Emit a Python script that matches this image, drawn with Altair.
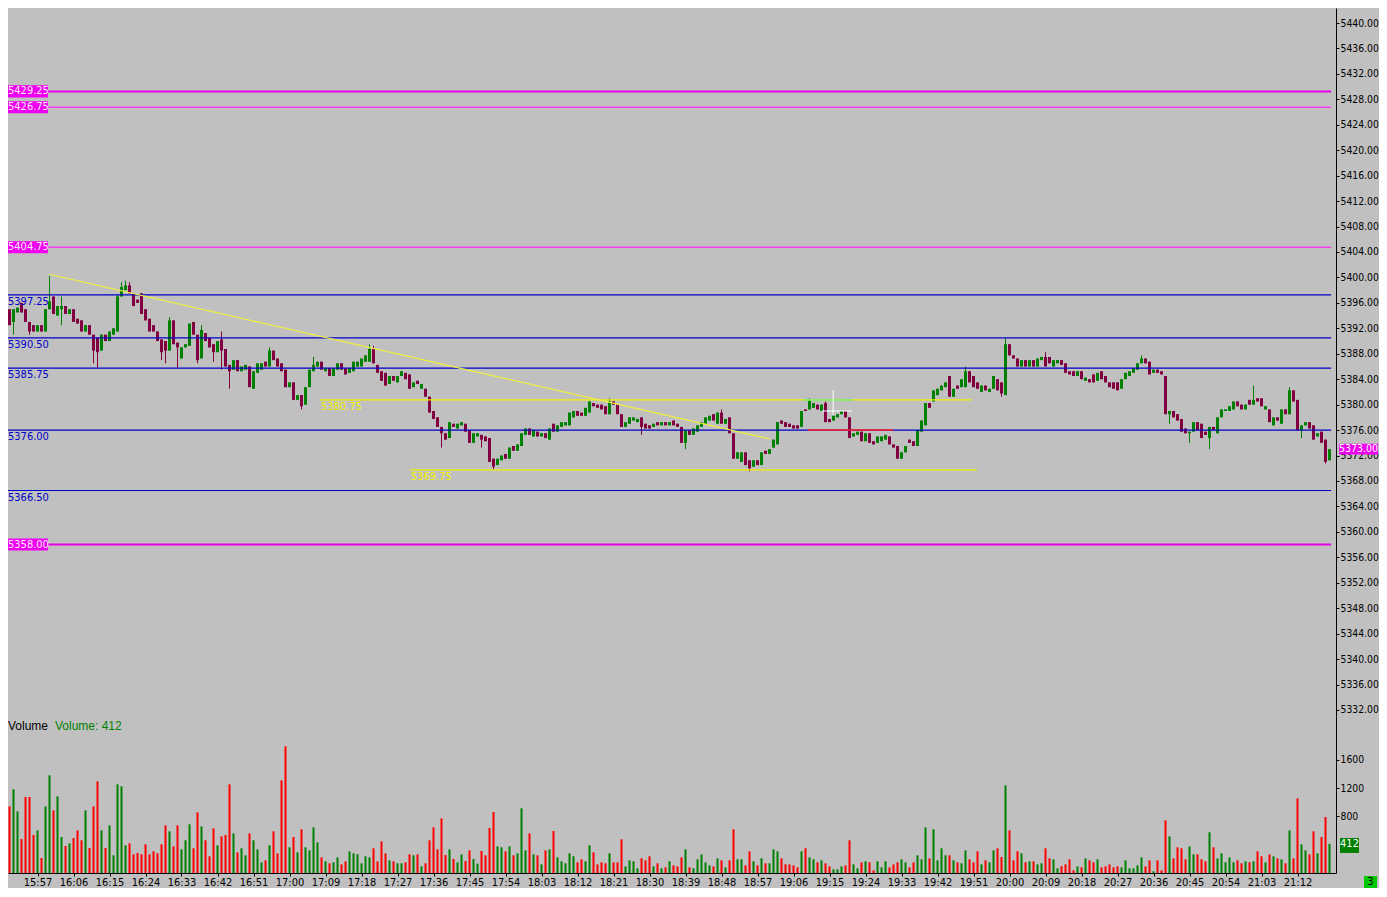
import altair as alt
import pandas as pd

FONT = "DejaVu Sans Condensed, Liberation Sans Narrow, sans-serif"
BG = "#c0c0c0"
GREEN = "#008000"
MAROON = "#800040"
VOL_RED = "#ff0000"

START = 15 * 60 + 48  # 15:48, one bar per minute

opens = [
    5397.25, 5398.5, 5395, 5393, 5394.5, 5396, 5395, 5393, 5392.5,
    5391.5, 5392.5, 5391.5, 5395, 5397, 5394, 5395, 5395.5, 5394.25,
    5395, 5393.5, 5393.25, 5391.5, 5392.5, 5391, 5390.5, 5388.5, 5391,
    5390, 5391, 5391.5, 5397, 5398, 5398.75, 5397.5, 5396.5, 5397.5,
    5395, 5393.5, 5392.5, 5391.5, 5390.25, 5390, 5388.5, 5393.25, 5389.75,
    5387.25, 5389, 5389.25, 5393, 5391, 5387.25, 5391.25, 5390.5, 5389.5,
    5388.25, 5390.25, 5388.75, 5386.25, 5385.5, 5387, 5385.25, 5385.5, 5386,
    5382.5, 5385, 5385.5, 5386.75, 5386, 5388.5, 5387.25, 5386.5, 5385.5,
    5382.75, 5383.5, 5380.75, 5381.5, 5380, 5382.75, 5385.25, 5386, 5386.75,
    5385.25, 5385.75, 5384.5, 5385.5, 5386.5, 5385.75, 5385, 5385.25, 5386,
    5386, 5386.75, 5386.75, 5388.75, 5386.25, 5385.25, 5385, 5383.25, 5384.5,
    5383.5, 5384.5, 5385, 5384.75, 5382.75, 5383.75, 5382.5, 5382.5, 5381.25,
    5379, 5378, 5376.5, 5375.5, 5374.75, 5377, 5376.25, 5376.75, 5377,
    5376, 5374, 5375, 5375.25, 5375, 5374.75, 5371.5, 5370.5, 5371.25,
    5372.25, 5371.5, 5373.5, 5372.75, 5373.5, 5375.25, 5376.25, 5375, 5375.75,
    5375, 5375.5, 5374.5, 5377, 5375.75, 5376.5, 5376.75, 5376.75, 5378,
    5379, 5378.75, 5378.25, 5378.75, 5380.25, 5380, 5380, 5379.75, 5378.5,
    5380.5, 5380, 5378.5, 5376.5, 5377, 5377.5, 5377.25, 5378, 5377,
    5376.75, 5376.5, 5377.25, 5376.75, 5377.25, 5376.75, 5377.5, 5377, 5376.5,
    5374, 5376, 5375.25, 5375.75, 5376.5, 5377, 5377.5, 5378.5, 5377,
    5378.75, 5377, 5378, 5375.5, 5371.5, 5371, 5372.5, 5371.25, 5370.25,
    5371.25, 5370.5, 5372.75, 5372.25, 5373.25, 5373.75, 5377.5, 5377.25, 5377,
    5376.75, 5376.75, 5376.5, 5379.25, 5379.25, 5379.5, 5380, 5379, 5380.25,
    5377.75, 5377.5, 5378, 5378.5, 5379, 5378, 5375, 5375.25, 5375.75,
    5374.25, 5375.5, 5374.25, 5374, 5374.25, 5374.5, 5375, 5373.75, 5373.5,
    5371.5, 5372.5, 5374.5, 5374.25, 5373.5, 5375.75, 5376.75, 5380.25, 5380.5,
    5381.5, 5382.25, 5382.75, 5384.5, 5381.25, 5383, 5382.75, 5382.75, 5385.25,
    5384.5, 5383.5, 5382, 5383, 5382, 5382.5, 5384, 5383.5, 5381.5,
    5389.5, 5387.75, 5387.25, 5386, 5387, 5386, 5387, 5386, 5387,
    5387.5, 5387.5, 5386, 5386.5, 5387, 5386.5, 5385.25, 5385.25, 5384.5,
    5385.25, 5383.75, 5384, 5384.75, 5383.75, 5385.25, 5384.5, 5383.5, 5383.5,
    5383.5, 5382.5, 5384, 5384.5, 5385, 5385.5, 5386.5, 5387.25, 5386.75,
    5385, 5385.5, 5385.25, 5384.5, 5378.5, 5379, 5378.5, 5377.75, 5376.25,
    5375.5, 5375.75, 5377.25, 5377, 5375.75, 5374.75, 5376.5, 5375.5, 5378,
    5379, 5379, 5379.25, 5380.5, 5380, 5379.25, 5380.75, 5380, 5381,
    5381, 5379.25, 5379.25, 5376.75, 5378, 5377, 5379.25, 5378.5, 5382.25,
    5380.75, 5376, 5376.75, 5377.25, 5376.75, 5375, 5375.75, 5374.5, 5371.25,
]

closes = [
    5399, 5395, 5392.5, 5395, 5395.25, 5394.5, 5393, 5391.5, 5391.5,
    5392.5, 5391.5, 5395, 5396.25, 5394.25, 5395.5, 5395.5, 5394.25, 5395,
    5393, 5392.75, 5391.5, 5392.5, 5391, 5388.5, 5388.25, 5391, 5390,
    5391.5, 5392, 5397, 5398.5, 5398.75, 5397.5, 5395.5, 5396, 5394.25,
    5393.25, 5391.5, 5391.5, 5390, 5388.25, 5388.5, 5393.25, 5389.5, 5389,
    5389, 5389.5, 5392.75, 5391, 5387, 5391.75, 5390, 5389, 5388.25,
    5390, 5388.5, 5386, 5385.25, 5387, 5385.25, 5386, 5386.25, 5382.75,
    5385.25, 5386.5, 5386.5, 5386, 5388.5, 5387, 5386, 5385.25, 5382.75,
    5383.5, 5380.75, 5381.5, 5379.75, 5382.75, 5385.5, 5386.25, 5386.75, 5385.5,
    5385.75, 5384.5, 5385.75, 5386.5, 5385.5, 5384.75, 5385.75, 5386.75, 5386.75,
    5387.25, 5387.75, 5388.75, 5386.5, 5385, 5383.75, 5383, 5384.5, 5383.75,
    5384.5, 5385.25, 5384, 5382.5, 5383.5, 5383.25, 5383.25, 5381.25, 5378.75,
    5377.75, 5376.5, 5375.5, 5374.5, 5377.25, 5376.5, 5377, 5377.25, 5375.75,
    5374, 5375.5, 5375.5, 5374.5, 5374.25, 5371, 5370.25, 5371.5, 5372,
    5371.5, 5373.25, 5372.75, 5373.75, 5375.5, 5376.25, 5375.25, 5376, 5375,
    5375.5, 5374.75, 5376.25, 5375.75, 5376.75, 5377.25, 5377.25, 5378.75, 5379,
    5378.25, 5378.25, 5379.5, 5380.5, 5379.75, 5379.5, 5379.25, 5378.5, 5380.5,
    5380, 5378.5, 5376.5, 5377.25, 5378, 5378, 5377.75, 5376.5, 5376.25,
    5376.25, 5377, 5376.75, 5377.25, 5376.75, 5377.25, 5376.75, 5376.5, 5374,
    5376, 5375.25, 5376.25, 5376.75, 5377.25, 5378, 5378.25, 5377.5, 5378.75,
    5377, 5377.75, 5375.5, 5371.5, 5372.5, 5372.5, 5370.5, 5370, 5371.25,
    5370.5, 5372.5, 5372.25, 5373, 5374.5, 5377.25, 5377, 5376.5, 5376.5,
    5376.25, 5376.25, 5379, 5379, 5380.75, 5380.25, 5379.25, 5380, 5377.25,
    5377.25, 5378.25, 5378.5, 5379, 5378, 5374.75, 5375.5, 5375.75, 5374.25,
    5375.5, 5374, 5373.75, 5375, 5375, 5375.25, 5373.75, 5373.25, 5371.5,
    5372.5, 5373.5, 5374, 5373.5, 5376, 5377.5, 5380.25, 5379.5, 5382.25,
    5382.5, 5383, 5383.5, 5381.25, 5382.5, 5382.5, 5384, 5385.25, 5383.5,
    5382.75, 5382.5, 5383, 5382.25, 5382.5, 5384.5, 5382.25, 5381.75, 5389.5,
    5387.75, 5387.25, 5386, 5387, 5386, 5387, 5386, 5387.25, 5387.5,
    5386, 5386.5, 5387, 5387, 5386.25, 5385, 5384.75, 5384.5, 5385.25,
    5384, 5384.25, 5383.5, 5383.5, 5385, 5384, 5383.5, 5382.75, 5382.5,
    5382.25, 5384, 5385, 5385.25, 5385.75, 5386.5, 5387.25, 5386.5, 5384.75,
    5385.5, 5385, 5384.75, 5378.5, 5379, 5378, 5377.5, 5375.75, 5375.5,
    5375.75, 5377.25, 5376, 5374.75, 5375.25, 5376.5, 5376, 5378, 5379.25,
    5379.25, 5379.75, 5380.5, 5379.75, 5379.25, 5380, 5380, 5380.75, 5380.5,
    5379.75, 5379.75, 5377.25, 5378, 5377.5, 5379.25, 5378.5, 5382.25, 5380.5,
    5376, 5376.75, 5377.25, 5376.25, 5374.5, 5375.5, 5374, 5371, 5373,
]

volumes = [
    918, 622, 942, 1182, 871, 480, 1074, 1074, 537,
    603, 212, 942, 1380, 885, 1083, 509, 381, 419,
    494, 603, 462, 885, 353, 942, 1295, 603, 353,
    673, 250, 1253, 1225, 391, 419, 264, 283, 264,
    405, 264, 306, 278, 405, 673, 589, 377, 673,
    334, 462, 688, 349, 857, 659, 462, 236, 631,
    391, 518, 537, 1253, 560, 292, 349, 250, 560,
    462, 334, 151, 179, 391, 589, 278, 1309, 1790,
    363, 509, 292, 617, 363, 320, 645, 433, 221,
    165, 137, 151, 221, 122, 165, 306, 278, 264,
    137, 236, 221, 349, 165, 447, 278, 179, 165,
    137, 137, 151, 264, 250, 264, 94, 137, 462,
    645, 334, 772, 254, 334, 198, 151, 264, 170,
    320, 198, 132, 311, 250, 636, 862, 377, 363,
    306, 377, 250, 278, 914, 320, 560, 264, 250,
    122, 320, 334, 593, 221, 165, 137, 278, 236,
    151, 193, 165, 391, 292, 122, 151, 137, 278,
    151, 151, 476, 94, 179, 165, 66, 207, 179,
    236, 94, 137, 66, 80, 165, 108, 94, 221,
    334, 80, 66, 193, 264, 151, 108, 94, 207,
    179, 80, 179, 617, 193, 193, 108, 306, 165,
    108, 207, 137, 137, 334, 306, 207, 122, 122,
    108, 80, 306, 349, 221, 193, 151, 179, 137,
    94, 52, 52, 94, 108, 462, 122, 66, 151,
    165, 151, 38, 165, 80, 165, 80, 122, 151,
    193, 151, 80, 151, 250, 193, 645, 207, 617,
    179, 349, 250, 250, 179, 151, 137, 320, 193,
    151, 306, 122, 179, 151, 320, 349, 226, 1239,
    603, 179, 306, 278, 151, 165, 165, 122, 137,
    349, 207, 193, 66, 94, 122, 193, 38, 94,
    80, 207, 179, 151, 193, 80, 94, 122, 80,
    94, 80, 179, 66, 66, 108, 221, 94, 179,
    24, 179, 38, 744, 518, 207, 363, 349, 193,
    377, 264, 264, 193, 165, 575, 363, 207, 278,
    151, 221, 151, 179, 137, 165, 151, 165, 306,
    236, 151, 264, 236, 207, 193, 137, 603, 207,
    1055, 405, 320, 264, 589, 278, 509, 791, 412,
]

# wick extremes that reach beyond the candle body (bar index -> price)
wick_high = {0: 5399.5, 12: 5400.25, 15: 5397, 29: 5397.25, 30: 5399.25, 31: 5399.5,
             32: 5399.25, 42: 5393.75, 50: 5392.5, 55: 5391.5, 67: 5389, 78: 5387.5,
             92: 5389.5, 93: 5389.25, 152: 5381, 180: 5379.25, 202: 5381, 206: 5380.5,
             241: 5386, 251: 5390.5, 261: 5388.25, 285: 5387.75, 313: 5383, 322: 5382.75}
wick_low = {3: 5391, 7: 5391, 15: 5392.5, 23: 5386.5, 24: 5385.75, 40: 5387, 41: 5386.5,
            44: 5385.75, 49: 5386.5, 53: 5386.75, 55: 5385.5, 57: 5382.5, 75: 5379.25,
            110: 5373.25, 120: 5373.25, 123: 5369.75, 160: 5375.25, 171: 5373,
            187: 5369.5, 250: 5381.25, 292: 5377, 297: 5374, 302: 5373, 325: 5374.75,
            331: 5370.75}

magenta_levels = [5429.25, 5426.75, 5404.75, 5358.00]
magenta_widths = [2.0, 1.5, 1.5, 2.0]
blue_levels = [5397.25, 5390.50, 5385.75, 5376.00, 5366.50]

yellow_levels = [5380.75, 5369.75]
yellow_from = [1027.6, 1050.1]
yellow_to = [1190.6, 1191.9]

trend_t = [959.9, 1140.1]
trend_p = [5400.5, 5374.6]

order_lines_p = [5380.75, 5376.00]
order_lines_from = [1148.6, 1149.6]
order_lines_to = [1160.75, 1170.9]
order_lines_col = ["#70f070", "#ff2020"]

last_price = 5373.00
last_volume = 412

price_ticks = [5332, 5336, 5340, 5344, 5348, 5352, 5356, 5360, 5364, 5368, 5372,
               5376, 5380, 5384, 5388, 5392, 5396, 5400, 5404, 5408, 5412, 5416,
               5420, 5424, 5428, 5432, 5436, 5440]
volume_ticks = [800, 1200, 1600]
time_ticks = list(range(957, 1273, 9))

W = 1328
H_PRICE = 708
H_VOL = 157
X_DOMAIN = [949.625, 1281.625]
P_DOMAIN = [5331.05, 5442.36]
V_DOMAIN = [0, 2218]
LINE_END = 1280.4

xs = alt.Scale(domain=X_DOMAIN, nice=False, zero=False, padding=0)
ys = alt.Scale(domain=P_DOMAIN, nice=False, zero=False, padding=0)
vs = alt.Scale(domain=V_DOMAIN, nice=False, zero=False, padding=0)

price_axis = alt.Axis(orient="right", values=price_ticks, format=".2f", labelFont=FONT,
                      labelFontSize=10.3, labelColor="black", tickColor="black", tickSize=3,
                      domainColor="black", domainWidth=1, grid=False, title=None,
                      labelPadding=1, labelFlush=False, labelOverlap=False)
vol_axis = alt.Axis(orient="right", values=volume_ticks, format="d", labelFont=FONT,
                    labelFontSize=10.3, labelColor="black", tickColor="black", tickSize=3,
                    domainColor="black", domainWidth=1, grid=False, title=None,
                    labelPadding=1, labelFlush=False, labelOverlap=False)
time_axis = alt.Axis(orient="bottom", values=time_ticks,
                     labelExpr="floor(datum.value / 60) + ':' + (datum.value % 60 < 10 ? '0' : '') + (datum.value % 60)",
                     labelFont=FONT, labelFontSize=11, labelColor="black", tickColor="black",
                     tickSize=3, domainColor="black", domainWidth=1, grid=False, title=None,
                     labelPadding=0, labelFlush=False, labelOverlap=False)


def XP(f):
    return alt.X(f, type="quantitative", scale=xs, axis=None)


def YP(f):
    return alt.Y(f, type="quantitative", scale=ys, axis=price_axis)


n = len(closes)
rows = []
for i in range(n):
    o, c = opens[i], closes[i]
    top, bot = max(o, c), min(o, c)
    rows.append({
        "t": START + i, "o": o, "c": c, "top": top, "bot": bot,
        "h": max(top, wick_high.get(i, top)), "l": min(bot, wick_low.get(i, bot)),
        "v": volumes[i],
        "col": GREEN if c >= o else MAROON,
        "vcol": GREEN if c >= o else VOL_RED,
    })
bars = pd.DataFrame(rows)

levels = pd.DataFrame(
    [{"p": p, "t0": X_DOMAIN[0], "t1": LINE_END, "col": "#e800e8" if w > 1.8 else "#f040f0", "w": w}
     for p, w in zip(magenta_levels, magenta_widths)]
    + [{"p": p, "t0": X_DOMAIN[0], "t1": LINE_END, "col": "#0000c8", "w": 1.2} for p in blue_levels]
    + [{"p": p, "t0": a, "t1": b, "col": "#f0f000", "w": 1.4}
       for p, a, b in zip(yellow_levels, yellow_from, yellow_to)]
    + [{"p": p, "t0": a, "t1": b, "col": col, "w": 1.5}
       for p, a, b, col in zip(order_lines_p, order_lines_from, order_lines_to, order_lines_col)]
)

wicks = alt.Chart(bars).mark_rule(strokeWidth=1, clip=True).encode(
    x=XP("t"), y=YP("l"), y2="h:Q", color=alt.Color("col:N", scale=None))
bodies = alt.Chart(bars).mark_bar(size=3, clip=True).encode(
    x=XP("t"), y=YP("bot"), y2="top:Q", color=alt.Color("col:N", scale=None))

level_rules = alt.Chart(levels).mark_rule(clip=True).encode(
    x=XP("t0"), x2="t1:Q", y=YP("p"),
    color=alt.Color("col:N", scale=None), strokeWidth=alt.StrokeWidth("w:Q", scale=None))

trend = alt.Chart(pd.DataFrame({"t": trend_t, "p": trend_p})).mark_line(
    color="#f0f040", strokeWidth=1.2, clip=True).encode(x=XP("t"), y=YP("p"))

cross_v = alt.Chart(pd.DataFrame({"t": [1155.9], "p1": [5382.3], "p2": [5378.4]})).mark_rule(
    color="white", strokeWidth=1).encode(x=XP("t"), y=YP("p1"), y2="p2:Q")
cross_h = alt.Chart(pd.DataFrame({"t1": [1153.1], "t2": [1160.6], "p": [5379.0]})).mark_rule(
    color="white", strokeWidth=1).encode(x=XP("t1"), x2="t2:Q", y=YP("p"))

mag_df = pd.DataFrame({"p": magenta_levels, "lo": [p - 0.95 for p in magenta_levels],
                       "hi": [p + 0.95 for p in magenta_levels],
                       "s": [f"{p:.2f}" for p in magenta_levels]})
mag_box = alt.Chart(mag_df).mark_rect(color="#f000f0").encode(
    x=alt.value(0), x2=alt.value(40), y=YP("lo"), y2="hi:Q")
mag_txt = alt.Chart(mag_df).mark_text(align="left", baseline="middle", font=FONT,
                                      fontSize=11, color="#ffe8ff").encode(
    x=alt.value(0), y=YP("p"), text="s:N")

blue_df = pd.DataFrame({"p": blue_levels, "s": [f"{p:.2f}" for p in blue_levels]})
blue_txt = alt.Chart(blue_df).mark_text(align="left", baseline="middle", font=FONT,
                                        fontSize=11, color="#0000c8", dy=7).encode(
    x=alt.value(0), y=YP("p"), text="s:N")

yel_df = pd.DataFrame({"p": yellow_levels, "t": yellow_from,
                       "s": [f"{p:.2f}" for p in yellow_levels]})
yel_txt = alt.Chart(yel_df).mark_text(align="left", baseline="middle", font=FONT,
                                      fontSize=11, color="#f0f000", dy=7, dx=1).encode(
    x=XP("t"), y=YP("p"), text="s:N")

last_df = pd.DataFrame({"p": [last_price], "lo": [last_price - 0.85], "hi": [last_price + 0.85],
                        "s": [f"{last_price:.2f}"]})
last_box = alt.Chart(last_df).mark_rect(color="#f000f0").encode(
    x=alt.value(W + 3), x2=alt.value(W + 42), y=YP("lo"), y2="hi:Q")
last_txt = alt.Chart(last_df).mark_text(align="center", baseline="middle", font=FONT,
                                        fontSize=10.5, color="white").encode(
    x=alt.value(W + 22.5), y=YP("p"), text="s:N")

price = alt.layer(wicks, bodies, level_rules, trend, cross_v, cross_h,
                  mag_box, mag_txt, blue_txt, yel_txt, last_box, last_txt).properties(
    width=W, height=H_PRICE)

# volume panel
vol_bars = alt.Chart(bars).mark_bar(size=2, clip=True).encode(
    x=alt.X("t:Q", scale=xs, axis=time_axis),
    y=alt.Y("v:Q", scale=vs, axis=vol_axis),
    color=alt.Color("vcol:N", scale=None))

lv_df = pd.DataFrame({"v": [last_volume], "lo": [283], "hi": [494], "s": [str(last_volume)]})
lv_box = alt.Chart(lv_df).mark_rect(color="#008000").encode(
    x=alt.value(W + 4), x2=alt.value(W + 23),
    y=alt.Y("lo:Q", scale=vs, axis=vol_axis), y2="hi:Q")
lv_txt = alt.Chart(lv_df).mark_text(align="center", baseline="middle", font=FONT,
                                    fontSize=11, color="white").encode(
    x=alt.value(W + 13.5), y=alt.Y("v:Q", scale=vs, axis=vol_axis), text="s:N")

vol_title = alt.Chart(pd.DataFrame({"s": ["Volume"]})).mark_text(
    align="left", baseline="middle", font="Liberation Sans, sans-serif", fontSize=12,
    color="black").encode(x=alt.value(0), y=alt.value(10), text="s:N")
vol_title2 = alt.Chart(pd.DataFrame({"s": [f"Volume: {last_volume}"]})).mark_text(
    align="left", baseline="middle", font="Liberation Sans, sans-serif", fontSize=12,
    color="#008000").encode(x=alt.value(47), y=alt.value(10), text="s:N")

corner_box = alt.Chart(pd.DataFrame({"s": ["3"]})).mark_rect(color="#00c800").encode(
    x=alt.value(W + 28), x2=alt.value(W + 41), y=alt.value(H_VOL + 3), y2=alt.value(H_VOL + 15))
corner_txt = alt.Chart(pd.DataFrame({"s": ["3"]})).mark_text(
    align="center", baseline="middle", font=FONT, fontSize=11, color="black").encode(
    x=alt.value(W + 34.5), y=alt.value(H_VOL + 9), text="s:N")

volume = alt.layer(vol_bars, lv_box, lv_txt, vol_title, vol_title2, corner_box, corner_txt).properties(
    width=W, height=H_VOL)

chart = alt.vconcat(price, volume, spacing=0).properties(
    background=BG, padding=0
).configure_view(strokeWidth=0)

chart.save("out.html", embed_options={"renderer": "svg", "actions": False})
